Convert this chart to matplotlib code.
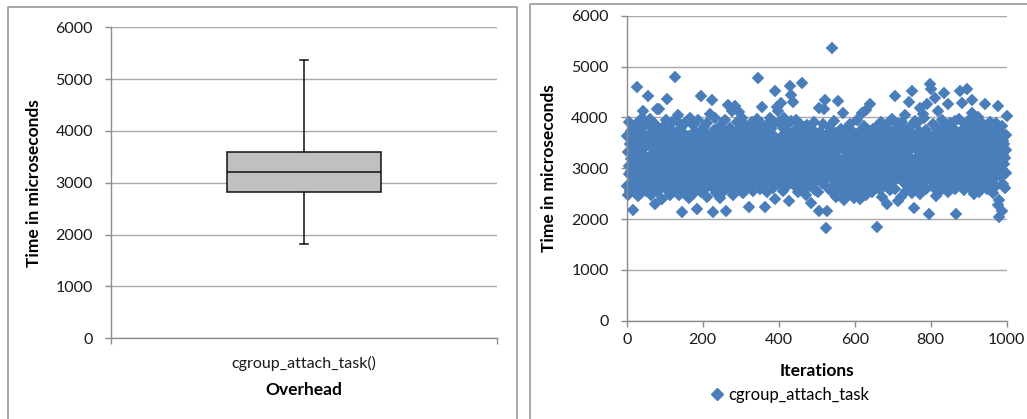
import numpy as np
import matplotlib
matplotlib.use("Agg")
import matplotlib.pyplot as plt
from matplotlib.lines import Line2D

plt.rcParams['font.family'] = ['Lato', 'DejaVu Sans']

# ---- data -------------------------------------------------------------
# Five-number summary of cgroup_attach_task() overhead (microseconds)
box_label = "cgroup_attach_task()"
box_min = 1825
box_q1 = 2830
box_median = 3200
box_q3 = 3590
box_max = 5360

y_ticks = [0, 1000, 2000, 3000, 4000, 5000, 6000]
x_ticks = [0, 200, 400, 600, 800, 1000]

series_name = "cgroup_attach_task"
# per-iteration time of cgroup_attach_task (microseconds), iterations 1..1000
attach_times = [
    3640, 2650, 3320, 2480, 3910, 3050, 2890, 3470, 2560, 3180, 3730, 2940, 3380, 2710, 3560, 2170, 3260, 2830, 3650, 3020,
    3410, 2590, 3120, 3860, 2760, 3310, 4590, 2980, 3540, 2450, 3230, 3780, 2870, 3460, 2640, 3090, 3690, 2520, 3350, 3990,
    2920, 4120, 3270, 2680, 3590, 3010, 2790, 3840, 3150, 2560, 3430, 2990, 3620, 2740, 4430, 3180, 2880, 3520, 2610, 3960,
    3240, 2850, 3710, 2470, 3060, 3390, 2700, 3800, 3130, 2950, 3570, 2630, 3290, 3870, 2300, 3440, 3020, 2780, 3610, 4170,
    2540, 3360, 3000, 3750, 2820, 4160, 3200, 2660, 3480, 2910, 3680, 3100, 2400, 3530, 2990, 3820, 2720, 3250, 3590, 2860,
    3370, 2610, 3940, 3140, 2750, 4370, 3020, 3460, 2580, 3330, 3760, 2940, 3190, 2470, 3620, 3050, 2800, 3900, 3280, 2690,
    3510, 3070, 2830, 3720, 2550, 3420, 2980, 4800, 3160, 2710, 3580, 3930, 2890, 3300, 2620, 4050, 3110, 2470, 3680, 2950,
    3240, 3790, 2780, 3450, 2600, 2130, 3350, 2920, 3700, 3080, 2510, 3860, 3210, 2850, 3570, 2700, 3390, 3030, 3920, 2570,
    3150, 3640, 2880, 3470, 2410, 3310, 3990, 2740, 3080, 3560, 2960, 3270, 2640, 3850, 3180, 2810, 3500, 2520, 3380, 3040,
    3730, 2900, 3210, 2200, 3610, 2780, 3340, 3950, 2630, 3120, 3480, 2860, 3700, 3010, 2540, 4420, 3260, 2930, 3590, 2720,
    3430, 3060, 2800, 3810, 3190, 2590, 3520, 2970, 3670, 2440, 3290, 3880, 2740, 3140, 3550, 2880, 3360, 4060, 2660, 3230,
    3010, 3620, 2780, 4340, 3170, 2140, 3480, 2930, 3750, 2600, 3320, 2860, 3990, 3100, 2520, 3540, 3230, 2800, 3690, 2950,
    3400, 2700, 3590, 3080, 2420, 3830, 3270, 2890, 3520, 3010, 2640, 3740, 3180, 2820, 3460, 2560, 3360, 3940, 2980, 3250,
    2150, 3670, 3050, 2870, 3420, 4250, 3140, 2730, 3580, 2990, 3800, 3210, 2600, 3490, 2920, 4120, 3320, 2790, 3650, 3030,
    2480, 3560, 3180, 4220, 2840, 3400, 2970, 3720, 3090, 2650, 3910, 3280, 2760, 3480, 3000, 4110, 2580, 3350, 3770, 2900,
    3240, 3610, 2720, 3990, 3150, 2510, 3440, 3860, 2880, 3300, 3690, 2940, 3520, 3070, 2610, 3780, 3200, 2800, 3630, 3100,
    2240, 3470, 2990, 3750, 3260, 2680, 3560, 3090, 3910, 2830, 3380, 2550, 3710, 3140, 2920, 3500, 2760, 3850, 3290, 3040,
    3620, 2870, 3380, 3960, 4780, 2710, 3230, 3540, 2950, 3760, 2600, 3420, 3100, 3880, 2810, 4200, 3320, 2660, 3610, 3050,
    3490, 2900, 2230, 3700, 3170, 2770, 3590, 3020, 3840, 2540, 3370, 2960, 3720, 3240, 2840, 3510, 3990, 2690, 3290, 3130,
    3770, 2870, 3430, 3080, 2620, 3650, 3190, 2930, 3880, 2400, 4520, 3320, 2980, 3580, 4210, 2780, 3460, 3050, 4130, 2700,
    3340, 3900, 2920, 3560, 3150, 4280, 2840, 3630, 3010, 2560, 3790, 3250, 2900, 3480, 3980, 2750, 3400, 3070, 3700, 2630,
    3290, 3850, 2980, 3530, 3170, 2350, 3680, 3040, 4620, 3400, 2810, 3920, 4440, 3210, 2710, 3600, 3110, 4300, 2880, 3470,
    3060, 3760, 2640, 3330, 3950, 2890, 3570, 3160, 2780, 3690, 3010, 2540, 3440, 3880, 2930, 3230, 3620, 2720, 3360, 3080,
    4680, 2990, 3510, 2600, 3270, 3810, 2850, 3420, 3060, 3700, 2480, 3160, 3580, 2930, 3850, 3300, 2760, 3530, 3110, 2640,
    3390, 2900, 3660, 3020, 2320, 3480, 3150, 2810, 3760, 3270, 2680, 3570, 2980, 3900, 3190, 2580, 3450, 3070, 2760, 3640,
    3230, 2910, 3540, 2530, 4180, 2150, 3350, 3050, 3720, 2830, 3440, 2990, 3610, 2700, 3260, 3870, 2930, 3400, 3090, 4170,
    3560, 2780, 4350, 1820, 3320, 2150, 3680, 2970, 3490, 2620, 3210, 3810, 2850, 3390, 3040, 3740, 2560, 3280, 3600, 2890,
    5360, 3130, 3460, 2770, 3920, 3010, 2660, 3570, 3200, 2880, 3700, 2430, 3340, 2960, 3530, 4330, 3080, 2720, 3650, 3170,
    2470, 3420, 2900, 3780, 3120, 2580, 3500, 3020, 4080, 2790, 3350, 2370, 3680, 3060, 2860, 3570, 3240, 2630, 3410, 3030,
    3790, 2740, 3300, 2970, 3610, 2510, 3160, 3860, 2880, 3450, 3080, 2660, 3710, 3220, 2940, 3520, 2410, 3360, 3690, 3010,
    2830, 3580, 3130, 2700, 3440, 3950, 2960, 3250, 2560, 3680, 3070, 2850, 3520, 3200, 2400, 3760, 3320, 2910, 4090, 3060,
    3490, 2640, 3280, 3830, 2950, 3400, 2730, 3620, 3100, 2470, 4140, 3200, 2860, 3560, 3010, 3760, 2600, 3330, 4260, 2930,
    3420, 3030, 2740, 3680, 3160, 2530, 3470, 2900, 3780, 3240, 2680, 3600, 2980, 3350, 2810, 3720, 3090, 1840, 3510, 2960,
    3250, 3840, 2710, 3390, 3000, 2570, 3630, 3170, 2870, 3900, 2440, 3310, 3700, 2930, 3560, 3050, 2660, 3450, 2780, 3810,
    3140, 2850, 3580, 2300, 3360, 3010, 3760, 2690, 3250, 3910, 2900, 3480, 3100, 2580, 3680, 3190, 2820, 3960, 3020, 3400,
    2720, 3590, 3200, 2940, 3780, 4430, 2600, 3340, 3060, 3690, 2810, 3450, 3130, 2360, 3860, 3260, 2880, 3550, 2990, 3710,
    3080, 2430, 3420, 3900, 2860, 3300, 3040, 3640, 2710, 3510, 3190, 2920, 4040, 3360, 2560, 3750, 3110, 2800, 3600, 3240,
    2940, 4310, 3470, 2660, 3820, 3050, 3380, 2880, 3690, 2520, 4510, 3170, 3000, 3560, 2750, 2220, 3440, 3930, 3090, 2840,
    3630, 3210, 2610, 3490, 3880, 2970, 3330, 2740, 3740, 3090, 2490, 3580, 4180, 2900, 3280, 3680, 3030, 2810, 4060, 3420,
    2700, 3360, 3990, 3120, 2860, 3540, 2590, 3760, 3210, 2940, 4270, 3440, 2780, 3650, 3070, 2100, 4650, 3300, 2880, 3580,
    3150, 4560, 2750, 3470, 3030, 3860, 2630, 3390, 2950, 4380, 3680, 3200, 2450, 3540, 3100, 2830, 3790, 3270, 2690, 4120,
    3410, 2970, 3600, 3060, 2550, 3720, 3290, 2870, 3950, 3140, 2720, 3480, 3020, 4470, 2620, 3330, 3840, 2930, 3560, 3180,
    2800, 3690, 3070, 3420, 2530, 4270, 3250, 2900, 3610, 3040, 2700, 3880, 3350, 2960, 3520, 2640, 3180, 3770, 2850, 3460,
    3000, 3640, 2590, 3330, 3930, 2100, 3480, 3110, 2800, 3710, 3230, 2660, 3590, 3050, 3960, 2770, 3390, 4510, 3140, 2910,
    3550, 2690, 4280, 3260, 2930, 3780, 3020, 2580, 3450, 3170, 3860, 2840, 3360, 3040, 3640, 4560, 2720, 3290, 3510, 2960,
    3740, 3100, 2620, 3430, 3990, 2870, 3200, 4090, 4350, 2770, 3570, 3010, 2500, 3690, 3160, 2920, 3830, 3340, 2680, 3480,
    3060, 3720, 2890, 4010, 3280, 2540, 3620, 3140, 2810, 3500, 3930, 2960, 3230, 3650, 2710, 3390, 3080, 2860, 3770, 3190,
    2650, 3460, 3020, 4260, 3580, 2880, 3300, 3840, 2590, 3420, 3120, 2760, 3680, 3220, 2950, 3900, 2790, 3540, 3060, 3310,
    3640, 2720, 3450, 3170, 2510, 3800, 3060, 2930, 3580, 3270, 2640, 3890, 3380, 2870, 3690, 2280, 4230, 3140, 2380, 3520,
    2040, 3720, 3020, 2820, 3610, 3380, 2150, 3830, 3260, 2680, 3540, 3090, 2930, 3470, 3200, 2610, 3660, 2900, 3350, 4020,
]

# ---- styling ------------------------------------------------------------
W, H = 1027, 419
GRID = '#a8a8a8'
SPINE = '#8c8c8c'
BORDER = '#a0a0a0'
BLUE = '#4a7ebb'
TICK_FS = 11.5
LABEL_FS = 12.5
MS = 6.6


def fx(px):
    return px / W


def fy(py):
    return 1 - py / H


fig = plt.figure(figsize=(W / 100, H / 100), dpi=100)


def style_axes(ax):
    ax.set_ylim(0, 6000)
    ax.set_yticks(y_ticks)
    ax.yaxis.grid(True, color=GRID, lw=1)
    ax.set_axisbelow(True)
    for s in ('top', 'right'):
        ax.spines[s].set_visible(False)
    for s in ('left', 'bottom'):
        ax.spines[s].set_color(SPINE)
        ax.spines[s].set_linewidth(1)
    ax.tick_params(axis='both', which='major', direction='out', length=4,
                   width=1, color=SPINE, labelsize=TICK_FS, labelcolor='#1a1a1a')
    ax.tick_params(axis='y', pad=9)


# ---- left panel: box plot ----------------------------------------------
ax1 = fig.add_axes([fx(111), fy(338.3), fx(497 - 111), (338.3 - 27.3) / H])
style_axes(ax1)
stats = [dict(med=box_median, q1=box_q1, q3=box_q3,
              whislo=box_min, whishi=box_max, fliers=[], label=box_label)]
ax1.bxp(stats, positions=[0.5], widths=0.4, capwidths=0.022,
        patch_artist=True, showfliers=False, manage_ticks=False,
        boxprops=dict(facecolor='#c0c0c0', edgecolor='#111111', lw=1.1),
        medianprops=dict(color='#111111', lw=1.1),
        whiskerprops=dict(color='#111111', lw=1.1),
        capprops=dict(color='#111111', lw=1.1))
ax1.set_xlim(0, 1)
ax1.set_xticks([0, 1])
ax1.set_xticklabels(['', ''])
ax1.set_xticks([0.5], minor=True)
ax1.set_xticklabels([box_label], minor=True)
ax1.tick_params(axis='x', which='minor', length=0, pad=13, labelsize=TICK_FS,
                labelcolor='#1a1a1a')
ax1.set_ylabel('Time in microseconds', fontsize=LABEL_FS, fontweight='bold')
ax1.yaxis.set_label_coords(-0.179, 0.5)
ax1.set_xlabel('Overhead', fontsize=LABEL_FS, fontweight='bold', va='center')
ax1.xaxis.set_label_coords(0.5, -(390 - 338.3) / 311)

# ---- right panel: per-iteration scatter ---------------------------------
ax2 = fig.add_axes([fx(626.7), fy(320.7), fx(1006.7 - 626.7), (320.7 - 15.7) / H])
style_axes(ax2)
iterations = np.arange(1, len(attach_times) + 1)
ax2.plot(iterations, attach_times, linestyle='none', marker='D', ms=MS,
         mfc=BLUE, mec=BLUE, mew=0.3, clip_on=False, label=series_name)
ax2.set_xlim(0, 1000)
ax2.set_xticks(x_ticks)
ax2.tick_params(axis='x', pad=5)
ax2.set_ylabel('Time in microseconds', fontsize=LABEL_FS, fontweight='bold')
ax2.yaxis.set_label_coords(-(626.7 - 557) / 380, 0.5)
ax2.set_xlabel('Iterations', fontsize=LABEL_FS, fontweight='bold', va='center')
ax2.xaxis.set_label_coords(0.5, -(371 - 320.7) / 305)
fig.legend(handles=[Line2D([], [], linestyle='none', marker='D', ms=MS,
                           mfc=BLUE, mec=BLUE, label=series_name)],
           loc='center', bbox_to_anchor=(fx(790), fy(395)), frameon=False,
           handlelength=0.8, handletextpad=0.3, fontsize=TICK_FS + 0.5)

# ---- panel frames -------------------------------------------------------
for xs, ys in (([7.5, 7.5, 516.5, 516.5], [H + 5, 7.5, 7.5, H + 5]),
               ([529.5, 529.5, W + 5], [H + 5, 4.5, 4.5])):
    fig.add_artist(Line2D([fx(x) for x in xs], [fy(y) for y in ys],
                          color=BORDER, lw=1.3, transform=fig.transFigure))

fig.savefig('out.png', dpi=100)
